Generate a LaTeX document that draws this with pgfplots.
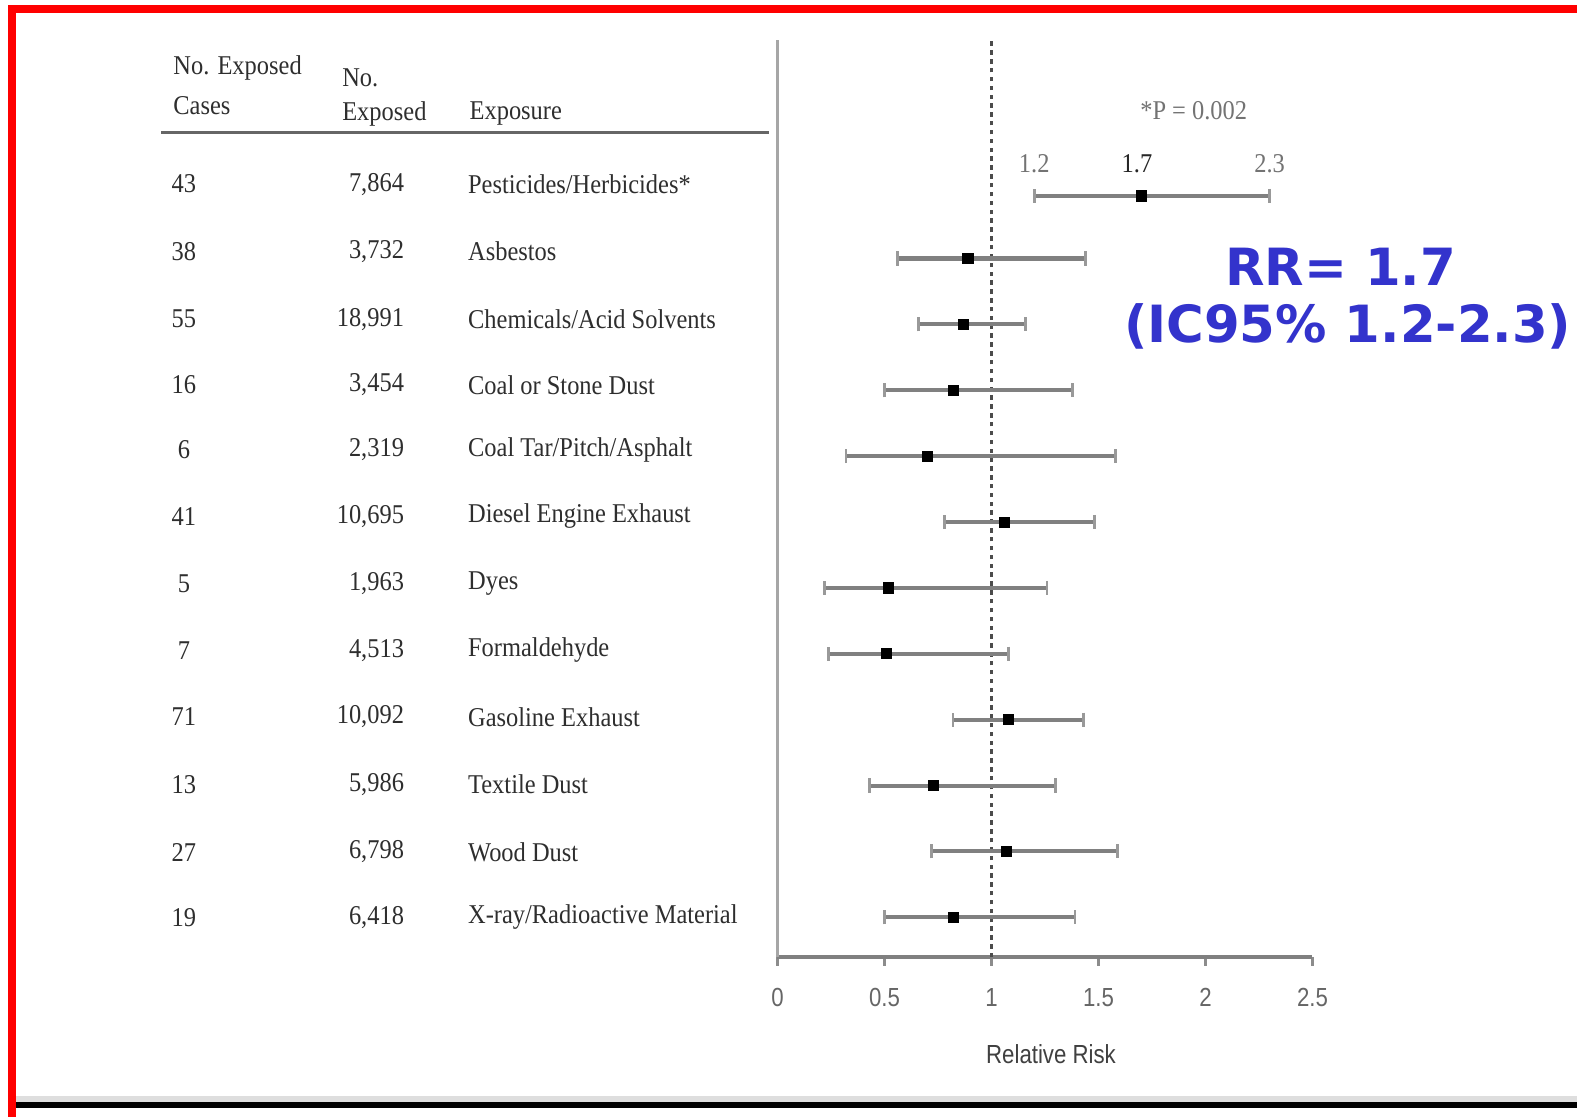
\documentclass[border=0pt]{standalone}
\usepackage{pgfplots}
\pgfplotsset{compat=1.18}
\usepackage{pgfplotstable}
\usepackage{fontspec}
\setmainfont{Liberation Serif}
\newfontfamily\tabfont[FakeStretch=0.9]{Liberation Serif}
\newfontfamily\axfont[FakeStretch=0.85]{Liberation Sans}
\newfontfamily\rrfont{DejaVu Sans}
\definecolor{rrblue}{HTML}{3333CC}
\definecolor{txt}{HTML}{2E2E2E}

% relative risk with 95% confidence limits, one line per exposure
\pgfplotstableread{
row   rr    lo    hi
11.95 1.70  1.20  2.30
11    0.89  0.56  1.44
10    0.87  0.66  1.16
9     0.82  0.50  1.38
8     0.70  0.32  1.58
7     1.06  0.78  1.48
6     0.52  0.22  1.26
5     0.51  0.24  1.08
4     1.08  0.82  1.43
3     0.73  0.43  1.30
2     1.07  0.72  1.59
1     0.82  0.50  1.39
}\rrdata

\newcommand{\tf}{\tabfont\fontsize{13.5}{16}\selectfont}
\tikzset{tab/.style={font=\tf, text=txt, inner sep=0pt}}
% one line of the exposure table: y position, cases, exposed, exposure
\newcommand{\trow}[4]{%
  \node[tab] at (axis cs:-2.773,#1) {#2};
  \node[tab, anchor=east] at (axis cs:-1.743,#1) {#3};
  \node[tab, anchor=west] at (axis cs:-1.447,#1) {#4};
}

\begin{document}
\begin{tikzpicture}
\useasboundingbox (0pt,0pt) rectangle (784pt,555.5pt);
\fill[white] (0pt,0pt) rectangle (784pt,555.5pt);
% slide frame
\fill[red] (4pt,0pt) rectangle (8pt,553pt);
\fill[red] (4pt,549.2pt) rectangle (784pt,553pt);
\fill[black!13] (8pt,7.5pt) rectangle (784pt,10.5pt);
\fill[black] (8pt,4.5pt) rectangle (784pt,7.5pt);

\begin{axis}[
  at={(386.5pt,79.5pt)}, anchor=south west,
  x=106.4pt, y=32.75pt,
  xmin=0, xmax=2.5, ymin=0.39, ymax=14.31,
  axis x line*=bottom, axis y line*=left,
  x axis line style={black!50, line width=2pt},
  y axis line style={black!35, line width=1.5pt},
  ytick=\empty,
  xtick={0,0.5,1,1.5,2,2.5},
  xticklabels={0,0.5,1,1.5,2,2.5},
  tick align=outside, major tick length=4pt,
  xtick style={black!45, line width=1.2pt},
  xticklabel style={font=\axfont\fontsize{13}{15}\selectfont, text=black!60, yshift=-8pt},
  clip=false,
]
% reference line at RR = 1
\draw[black!70, line width=1.2pt, dash pattern=on 2.2pt off 2.2pt]
  (axis cs:1,0.39) -- (axis cs:1,14.31);

\addplot[only marks, mark=square*, mark size=2.5pt, black,
  error bars/.cd, x dir=both, x explicit, error mark=|,
  error bar style={black!50, line width=2pt},
  error mark options={black!40, line width=1.3pt, mark size=3.5pt}]
  table[x=rr, y=row,
        x error plus expr=\thisrow{hi}-\thisrow{rr},
        x error minus expr=\thisrow{rr}-\thisrow{lo}] {\rrdata};

% values of the highlighted estimate
\node[font=\tf, text=black!55] at (axis cs:1.945,13.24) {*P = 0.002};
\node[font=\tf, text=black!55] at (axis cs:1.2,12.44) {1.2};
\node[font=\tf, text=black!85] at (axis cs:1.68,12.44) {1.7};
\node[font=\tf, text=black!55] at (axis cs:2.3,12.44) {2.3};

% table header
\node[tab, anchor=west] at (axis cs:-2.824,13.89) {No. Exposed};
\node[tab, anchor=west] at (axis cs:-2.824,13.32) {Cases};
\node[tab, anchor=west] at (axis cs:-2.035,13.75) {No.};
\node[tab, anchor=west] at (axis cs:-2.035,13.20) {Exposed};
\node[tab, anchor=west] at (axis cs:-1.440,13.20) {Exposure};
\draw[black!60, line width=1.5pt] (axis cs:-2.88,12.91) -- (axis cs:-0.04,12.91);

% table rows
\trow{12.13}{43}{7,864}{Pesticides/Herbicides*}
\trow{11.11}{38}{3,732}{Asbestos}
\trow{10.08}{55}{18,991}{Chemicals/Acid Solvents}
\trow{9.08}{16}{3,454}{Coal or Stone Dust}
\trow{8.10}{6}{2,319}{Coal Tar/Pitch/Asphalt}
\trow{7.09}{41}{10,695}{Diesel Engine Exhaust}
\trow{6.07}{5}{1,963}{Dyes}
\trow{5.05}{7}{4,513}{Formaldehyde}
\trow{4.04}{71}{10,092}{Gasoline Exhaust}
\trow{3.02}{13}{5,986}{Textile Dust}
\trow{1.99}{27}{6,798}{Wood Dust}
\trow{1.00}{19}{6,418}{X-ray/Radioactive Material}
\end{axis}

\node[font=\axfont\fontsize{13}{15}\selectfont, text=black!75] at (522.5pt,31.5pt) {Relative Risk};

\node[font=\rrfont\bfseries\fontsize{25.5}{30}\selectfont, text=rrblue] at (666.5pt,423pt) {RR= 1.7};
\node[font=\rrfont\bfseries\fontsize{25.5}{30}\selectfont, text=rrblue] at (670pt,393pt) {(IC95\% 1.2-2.3)};
\end{tikzpicture}
\end{document}
